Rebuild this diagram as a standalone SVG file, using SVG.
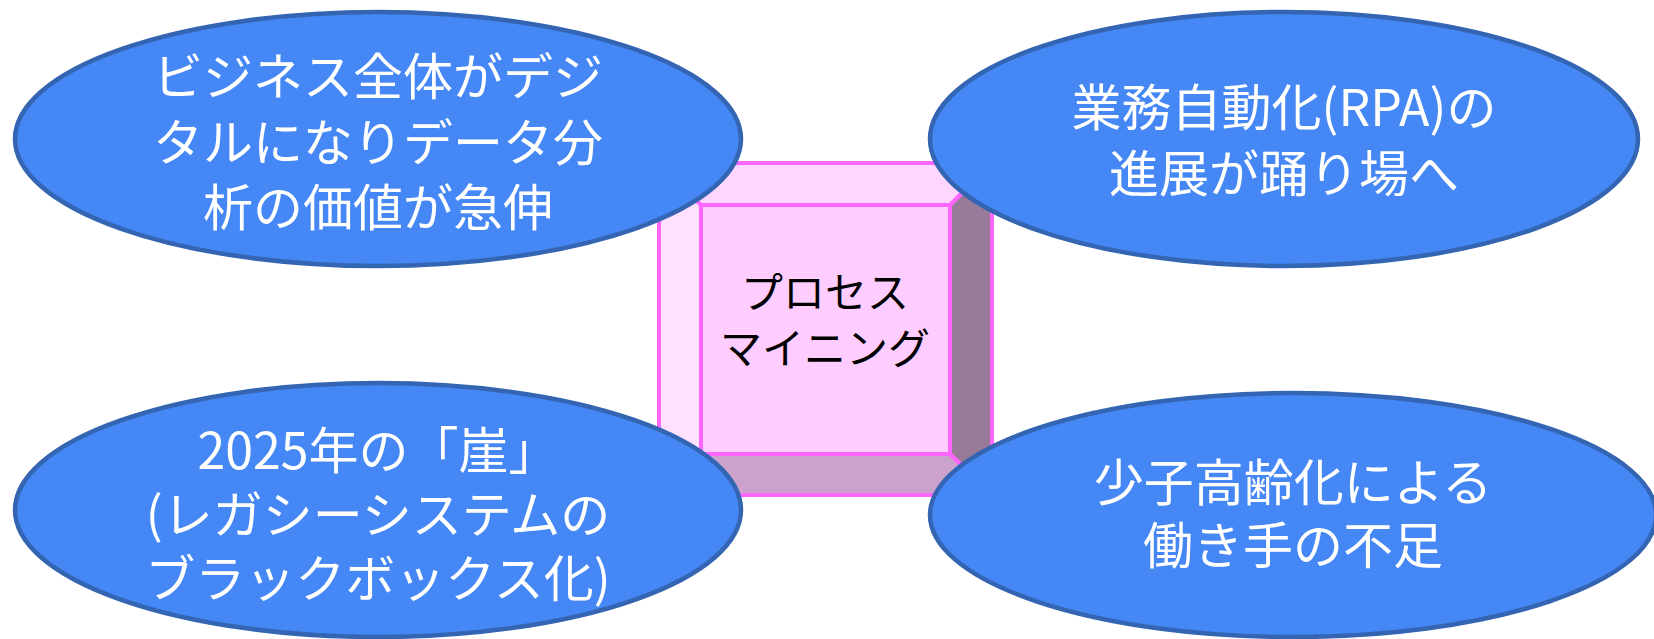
<svg xmlns="http://www.w3.org/2000/svg" width="1654" height="639" viewBox="0 0 1654 639">
<style>
.ell{fill:#4487F5;stroke:#3465B2;stroke-width:4.5}
.et{font-family:"Noto Sans CJK JP","Noto Sans",sans-serif;font-size:50px;fill:#FFFFFF;text-anchor:middle}
.bt{font-family:"Noto Sans CJK JP","Noto Sans",sans-serif;font-size:42px;fill:#000000;text-anchor:middle}
.edge{fill:none;stroke:#FF66FF;stroke-width:4}
</style>
<rect x="0" y="0" width="1654" height="639" fill="#FFFFFF"/>
<g id="connectors"></g>
<g id="process-mining">
<polygon points="659,163 992,163 950,205 701,205" fill="#FFD6FF"/>
<polygon points="659,163 701,205 701,454 659,495" fill="#FFE0FF"/>
<polygon points="992,163 992,495 950,454 950,205" fill="#997A99"/>
<polygon points="659,495 701,454 950,454 992,495" fill="#CBA2CB"/>
<rect x="701" y="205" width="249" height="249" fill="#FFCCFF"/>
<rect class="edge" x="659" y="163" width="333" height="332"/>
<rect class="edge" x="701" y="205" width="249" height="249"/>
<line class="edge" stroke-width="3" x1="950" y1="205" x2="992" y2="163"/>
<line class="edge" stroke-width="3" x1="950" y1="454" x2="992" y2="495"/>
<line class="edge" stroke-width="3" x1="701" y1="205" x2="659" y2="163"/>
<line class="edge" stroke-width="3" x1="701" y1="454" x2="659" y2="495"/>
<text class="bt" x="825" y="308">プロセス</text>
<text class="bt" x="825" y="364">マイニング</text>
</g>
<g id="digital-business">
<ellipse class="ell" cx="378" cy="139" rx="363" ry="127"/>
<text class="et" x="378" y="95">ビジネス全体がデジ</text>
<text class="et" x="378" y="161">タルになりデータ分</text>
<text class="et" x="378" y="226">析の価値が急伸</text>
</g>
<g id="rpa">
<ellipse class="ell" cx="1284" cy="139" rx="354" ry="127"/>
<text class="et" x="1284" y="126">業務自動化(RPA)の</text>
<text class="et" x="1284" y="192">進展が踊り場へ</text>
</g>
<g id="cliff-2025">
<ellipse class="ell" cx="378" cy="510" rx="363" ry="127"/>
<text class="et" x="378" y="469">2025年の「崖」</text>
<text class="et" x="378" y="533">(レガシーシステムの</text>
<text class="et" x="378" y="597">ブラックボックス化)</text>
</g>
<g id="labor-shortage">
<ellipse class="ell" cx="1293" cy="515" rx="363" ry="122"/>
<text class="et" x="1293" y="501">少子高齢化による</text>
<text class="et" x="1293" y="564">働き手の不足</text>
</g>
</svg>
